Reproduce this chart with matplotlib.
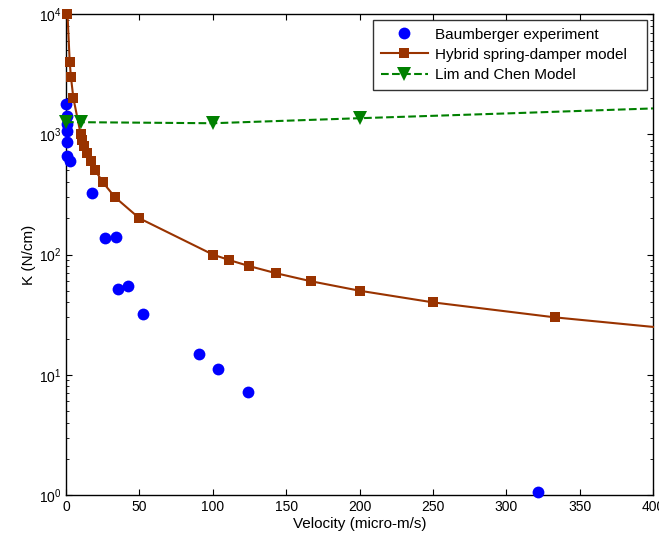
import matplotlib
matplotlib.use("Agg")
import matplotlib.pyplot as plt

plt.rcParams['font.family'] = ['Liberation Sans', 'DejaVu Sans']
plt.rcParams['mathtext.default'] = 'regular'

# Baumberger experiment (velocity in micro-m/s, stiffness in N/cm)
exp_v = [0.3, 0.4, 0.5, 0.6, 0.8, 0.6, 2.5, 17.5, 26.6, 33.9, 35.6, 42.0, 52.7, 90.4, 103.4, 123.8, 321.6]
exp_k = [1780, 1410, 1210, 1060, 858, 656, 604, 327, 136, 140, 52, 55, 32.3, 15.0, 11.1, 7.2, 1.05]

# hybrid spring-damper model
hyb_v = [1, 2.5, 3.33, 5, 10, 11.1, 12.5, 14.3, 16.7, 20, 25, 33.3, 50, 100, 111.1, 125, 142.9, 166.7, 200, 250, 333.3, 400]
hyb_k = [10000, 4000, 3000, 2000, 1000, 900, 800, 700, 600, 500, 400, 300, 200, 100, 90, 80, 70, 60, 50, 40, 30, 25]

# Lim and Chen model
lim_v = [0, 10, 100, 200, 300, 400]
lim_k = [1260, 1260, 1235, 1360, 1490, 1640]

fig = plt.figure(figsize=(6.59, 5.37), dpi=100)
ax = fig.add_axes([0.1002, 0.0782, 0.8907, 0.8957])

# markers sitting on the axes edge are drawn whole, not clipped
ax.semilogy(exp_v, exp_k, 'o', color='#0000ff', markersize=8.5, markeredgewidth=0,
            clip_on=False, zorder=3, label='Baumberger experiment')
ax.semilogy(hyb_v, hyb_k, '-s', color='#993300', linewidth=1.5, markersize=7.5,
            markeredgewidth=0, markevery=list(range(len(hyb_v) - 1)),
            clip_on=False, zorder=3, label='Hybrid spring-damper model')
ax.semilogy(lim_v, lim_k, '--v', color='#008000', linewidth=1.5, markersize=10.5,
            markeredgewidth=0, markevery=[0, 1, 2, 3],
            clip_on=False, zorder=3, label='Lim and Chen Model')

ax.set_xlim(0, 400)
ax.set_ylim(1, 1e4)
ax.set_xticks(range(0, 401, 50))
ax.tick_params(which='both', direction='in', top=True, right=True, labelsize=10)
ax.tick_params(which='major', length=4)
ax.tick_params(which='minor', length=2.5)
for s in ax.spines.values():
    s.set_linewidth(1.0)

ax.set_xlabel('Velocity (micro-m/s)', fontsize=11, labelpad=2)
ax.set_ylabel('K (N/cm)', fontsize=11, labelpad=2)

leg = ax.legend(loc='upper left', bbox_to_anchor=(0.523, 0.842, 0.4668, 0.1455),
                mode='expand', borderaxespad=0, fontsize=11, frameon=True,
                fancybox=False, edgecolor='black', handlelength=3.07,
                handletextpad=0.46, labelspacing=0.4, borderpad=0.5)
leg.get_frame().set_linewidth(1.0)
leg.set_zorder(5)

fig.savefig('out.png', dpi=100)
